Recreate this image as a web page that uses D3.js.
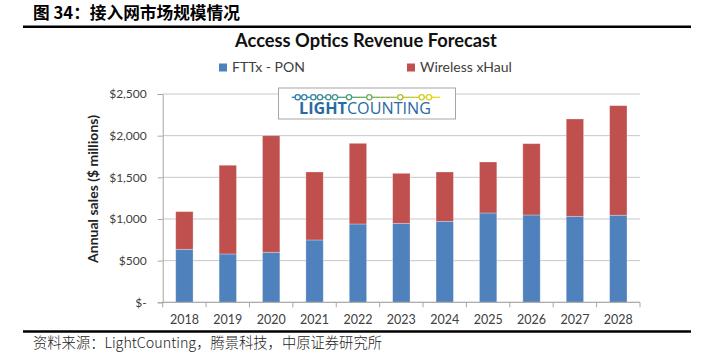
<!DOCTYPE html>
<html><head><meta charset="utf-8">
<script src="https://cdn.jsdelivr.net/npm/d3@7"></script>
<style>body{margin:0;background:#fff}svg{display:block}</style>
</head><body>
<script>
const categories = ["2018","2019","2020","2021","2022","2023","2024","2025","2026","2027","2028"];
const fttxPon = [636, 580, 600, 748, 940, 948, 972, 1072, 1048, 1032, 1045];
const wirelessXhaul = [452, 1065, 1400, 816, 968, 600, 592, 612, 856, 1168, 1315];
const seriesNames = ["FTTx - PON", "Wireless xHaul"];
const yTicks = [0, 500, 1000, 1500, 2000, 2500];

const W = 713, H = 352;
const svg = d3.select("body").append("svg").attr("width", W).attr("height", H);
const colors = ["#4f81bd", "#c0504d"];
const fit = (sel, w) => { const n = sel.node(); const fs = parseFloat(sel.attr("font-size")); const l = n.getComputedTextLength(); sel.attr("font-size", (fs * w / l).toFixed(2)); return sel; };

// header
fit(svg.append("text").attr("x", 33).attr("y", 19).attr("font-family", "Noto Sans CJK SC").attr("font-weight", "bold")
  .attr("font-size", 15).attr("fill", "#000").text("图 34：接入网市场规模情况"), 207);
svg.append("line").attr("x1", 23).attr("x2", 691).attr("y1", 26.8).attr("y2", 26.8).attr("stroke", "#000").attr("stroke-width", 2.5);
svg.append("line").attr("x1", 23).attr("x2", 691).attr("y1", 331.6).attr("y2", 331.6).attr("stroke", "#000").attr("stroke-width", 2.5);
fit(svg.append("text").attr("x", 33).attr("y", 348).attr("font-family", "Noto Sans CJK SC").attr("font-weight", 300)
  .attr("font-size", 13).attr("fill", "#222").text("资料来源：LightCounting，腾景科技，中原证券研究所"), 349);

// chart
const x = d3.scaleBand().domain(categories).range([162.7, 640]).paddingInner(0.6).paddingOuter(0.3);
const y = d3.scaleLinear().domain([0, 2500]).range([302.3, 94]);
const F = "Lato, 'Open Sans', sans-serif";

// title
fit(svg.append("text").attr("x", 366).attr("y", 46.7).attr("text-anchor", "middle").attr("font-family", F)
  .attr("font-weight", "bold").attr("font-size", 18).attr("fill", "#111").text("Access Optics Revenue Forecast"), 262);

// grid
svg.append("g").selectAll("line").data(yTicks).join("line")
  .attr("x1", x.range()[0]).attr("x2", x.range()[1]).attr("y1", d => y(d)).attr("y2", d => y(d))
  .attr("stroke", "#c8c8c8").attr("stroke-width", 1);

// y axis
const yAxis = svg.append("g").attr("transform", `translate(${x.range()[0]},0)`)
  .call(d3.axisLeft(y).tickValues(yTicks).tickSize(5).tickPadding(11)
    .tickFormat(d => d === 0 ? "$-" : "$" + d3.format(",")(d)));
yAxis.select(".domain").attr("stroke", "#a6a6a6");
yAxis.selectAll(".tick line").attr("stroke", "#a6a6a6");
yAxis.selectAll("text").attr("font-family", F).attr("font-size", 12).attr("fill", "#404040");

// stacked bars
const rows = categories.map((c, i) => ({ cat: c, fttx: fttxPon[i], wx: wirelessXhaul[i] }));
const stack = d3.stack().keys(["fttx", "wx"])(rows);
svg.append("g").selectAll("g").data(stack).join("g").attr("fill", (d, i) => colors[i])
  .selectAll("rect").data(d => d).join("rect")
  .attr("x", d => x(d.data.cat)).attr("width", x.bandwidth())
  .attr("y", d => y(d[1])).attr("height", d => y(d[0]) - y(d[1]))
  .attr("stroke", "rgba(255,255,255,0.35)").attr("stroke-width", 0.8);

// x axis
const step = x.step(), x0 = x.range()[0];
const xg = svg.append("g");
xg.append("line").attr("x1", x0).attr("x2", x.range()[1]).attr("y1", y(0)).attr("y2", y(0)).attr("stroke", "#a6a6a6");
xg.selectAll("line.tk").data(d3.range(categories.length + 1)).join("line").attr("class", "tk")
  .attr("x1", i => x0 + i * step).attr("x2", i => x0 + i * step).attr("y1", y(0)).attr("y2", y(0) + 5).attr("stroke", "#a6a6a6");
const xAxis = svg.append("g").attr("transform", `translate(0,${y(0)})`)
  .call(d3.axisBottom(x).tickSize(0).tickPadding(13));
xAxis.select(".domain").remove();
xAxis.selectAll("text").attr("font-family", F).attr("font-size", 12.5).attr("fill", "#404040");

// y title
fit(svg.append("text").attr("transform", "translate(97.5,189) rotate(-90)").attr("text-anchor", "middle")
  .attr("font-family", F).attr("font-weight", "bold").attr("font-size", 13).attr("fill", "#222")
  .text("Annual sales ($ millions)"), 148);

// legend
const legX = [219, 407];
seriesNames.forEach((n, i) => {
  svg.append("rect").attr("x", legX[i]).attr("y", 63.5).attr("width", 8).attr("height", 8).attr("fill", colors[i]);
  svg.append("text").attr("x", legX[i] + 13).attr("y", 72).attr("font-family", F).attr("font-size", 14)
    .attr("fill", "#404040").text(n);
});

// logo box
const lg = svg.append("g");
lg.append("rect").attr("x", 278.5).attr("y", 88).attr("width", 177).attr("height", 31).attr("fill", "#fff").attr("stroke", "#a6a6a6");
const dotXs = [297.7, 304.3, 313.3, 320, 328.3, 335, 349, 369.3, 400.3, 421.7, 429];
const grad = d3.scaleLinear().domain([292, 350, 400, 440]).range(["#2a78b5", "#4aa07a", "#a8c030", "#f0dc18"]);
for (let i = 0; i < 30; i++) {
  const a = 291.7 + i * (440 - 291.7) / 30, b = a + (440 - 291.7) / 30;
  lg.append("line").attr("x1", a).attr("x2", b).attr("y1", 97.3).attr("y2", 97.3).attr("stroke", grad((a + b) / 2)).attr("stroke-width", 1.3);
}
lg.selectAll("circle").data(dotXs).join("circle").attr("cx", d => d).attr("cy", 97.3).attr("r", 2.6)
  .attr("fill", "#fff").attr("stroke", d => grad(d)).attr("stroke-width", 1.3);
const lt = lg.append("text").attr("x", 299).attr("y", 114).attr("font-family", "'Open Sans', sans-serif").attr("font-size", 15.5)
  .attr("fill", "#2a6aa3").attr("textLength", 132).attr("lengthAdjust", "spacingAndGlyphs");
lt.append("tspan").attr("font-weight", "bold").text("LIGHT");
lt.append("tspan").text("COUNTING");
</script>
</body></html>
